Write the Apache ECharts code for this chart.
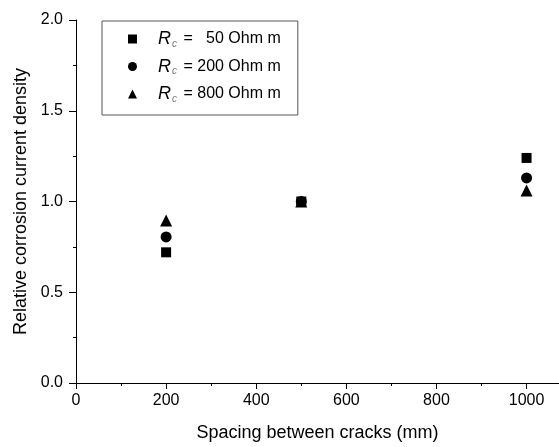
<!DOCTYPE html>
<html>
<head>
<meta charset="utf-8">
<script src="https://cdn.jsdelivr.net/npm/echarts@6/dist/echarts.min.js"></script>
<style>
  html, body { margin: 0; padding: 0; background: #fff; }
  #chart { width: 559px; height: 447px; }
</style>
</head>
<body>
<div id="chart"></div>
<script>
// spacing between cracks (mm)
const spacing = [200, 500, 1000]
// relative corrosion current density for each crack resistivity
const rc50 = [0.72, 1.0, 1.24]
const rc200 = [0.805, 1.0, 1.13]
const rc800 = [0.895, 1.0, 1.06]
const seriesNames = ['Rc50', 'Rc200', 'Rc800']
const legendTexts = {
  Rc50: '{i|R}{s|c}{t| =   50 Ohm m}',
  Rc200: '{i|R}{s|c}{t| = 200 Ohm m}',
  Rc800: '{i|R}{s|c}{t| = 800 Ohm m}'
}

const font = 'Liberation Sans, Arial, sans-serif'

function pairs(ys) {
  return spacing.map((x, i) => [x, ys[i]])
}

const chart = echarts.init(document.getElementById('chart'))

const option = {
  animation: false,
  grid: { left: 76, top: 20, right: 0, bottom: 62, containLabel: false },
  legend: {
    orient: 'vertical',
    left: 102,
    top: 21,
    padding: [9, 17, 11, 26],
    itemGap: 8.5,
    itemWidth: 9,
    itemHeight: 9,
    borderColor: '#555',
    borderWidth: 1,
    data: seriesNames,
    formatter: name => legendTexts[name],
    textStyle: {
      fontFamily: font,
      fontSize: 16,
      color: '#000',
      padding: [0, 0, 0, 16],
      rich: {
        i: { fontStyle: 'italic', fontSize: 18, fontFamily: font, color: '#000' },
        s: { fontStyle: 'italic', fontSize: 10, fontFamily: font, color: '#777', verticalAlign: 'bottom', padding: [10, 0, 0, 1] },
        t: { fontSize: 16, fontFamily: font, color: '#000', padding: [0, 0, 0, 2] }
      }
    }
  },
  xAxis: {
    type: 'value',
    min: 0,
    max: 1072,
    interval: 200,
    name: 'Spacing between cracks (mm)',
    nameLocation: 'middle',
    nameGap: 41,
    nameTextStyle: { fontFamily: font, fontSize: 18, color: '#000' },
    axisLine: { onZero: false, lineStyle: { color: '#000', width: 1 } },
    axisTick: { show: true, length: 6, lineStyle: { color: '#000' } },
    minorTick: { show: true, splitNumber: 2, length: 3, lineStyle: { color: '#000' } },
    splitLine: { show: false },
    axisLabel: {
      fontFamily: font, fontSize: 16, color: '#000', margin: 10,
      showMaxLabel: false, formatter: v => String(v)
    }
  },
  yAxis: {
    type: 'value',
    min: 0,
    max: 2,
    interval: 0.5,
    name: 'Relative corrosion current density',
    nameLocation: 'middle',
    nameGap: 44,
    nameTextStyle: { fontFamily: font, fontSize: 18, color: '#000' },
    axisLine: { show: true, onZero: false, lineStyle: { color: '#000', width: 1 } },
    axisTick: { show: true, length: 7, lineStyle: { color: '#000' } },
    minorTick: { show: true, splitNumber: 2, length: 3, lineStyle: { color: '#000' } },
    splitLine: { show: false },
    axisLabel: {
      fontFamily: font, fontSize: 16, color: '#000', margin: 13,
      formatter: v => v.toFixed(1)
    }
  },
  series: [
    {
      name: 'Rc50', type: 'scatter', symbol: 'rect', symbolSize: 10,
      itemStyle: { color: '#000', opacity: 1 }, data: pairs(rc50), z: 3
    },
    {
      name: 'Rc200', type: 'scatter', symbol: 'circle', symbolSize: 11,
      itemStyle: { color: '#000', opacity: 1 }, data: pairs(rc200), z: 4
    },
    {
      name: 'Rc800', type: 'scatter', symbol: 'triangle', symbolSize: 12,
      itemStyle: { color: '#000', opacity: 1 }, data: pairs(rc800), z: 5
    }
  ]
}

chart.setOption(option)
</script>
</body>
</html>
